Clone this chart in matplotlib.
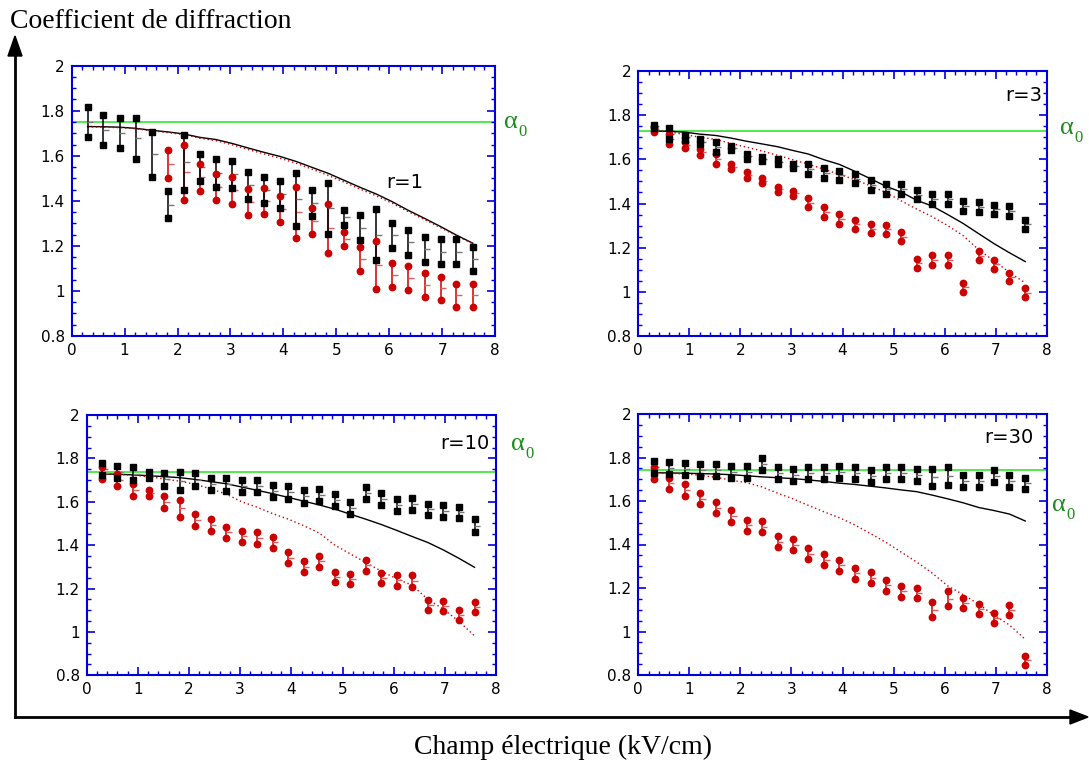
import numpy as np
import matplotlib.pyplot as plt
from matplotlib.ticker import MultipleLocator

# champ électrique (kV/cm), common to the four panels
champ = [0.30, 0.60, 0.91, 1.21, 1.52, 1.82, 2.12, 2.42, 2.73, 3.03, 3.33, 3.64, 3.94,
         4.24, 4.55, 4.85, 5.15, 5.45, 5.76, 6.06, 6.36, 6.67, 6.97, 7.27, 7.58]

# --- r = 1 ---
r1_noir_haut = [1.818, 1.783, 1.769, 1.769, 1.707, 1.442, 1.694, 1.609, 1.586, 1.578, 1.528, 1.506, 1.487,
                1.522, 1.450, 1.481, 1.359, 1.337, 1.362, 1.303, 1.272, 1.241, 1.229, 1.229, 1.197]
r1_noir_bas = [1.683, 1.648, 1.636, 1.586, 1.507, 1.325, 1.448, 1.488, 1.463, 1.456, 1.410, 1.391, 1.370,
               1.290, 1.334, 1.254, 1.294, 1.226, 1.139, 1.192, 1.161, 1.130, 1.120, 1.120, 1.089]
r1_rouge_haut = [None] * 5 + [1.624, 1.648, 1.565, 1.521, 1.506, 1.453, 1.457, 1.423, 1.463, 1.367,
                              1.388, 1.263, 1.195, 1.222, 1.123, 1.109, 1.078, 1.064, 1.031, 1.031]
r1_rouge_bas = [None] * 5 + [1.500, 1.404, 1.444, 1.404, 1.386, 1.337, 1.342, 1.308, 1.237, 1.254,
                             1.167, 1.198, 1.090, 1.010, 1.019, 1.006, 0.975, 0.960, 0.929, 0.929]
r1_modele = [1.730, 1.729, 1.727, 1.722, 1.713, 1.706, 1.697, 1.682, 1.672, 1.655, 1.635, 1.615, 1.597,
             1.575, 1.548, 1.522, 1.491, 1.460, 1.430, 1.396, 1.358, 1.322, 1.286, 1.248, 1.212]
r1_modele_rouge = [1.728, 1.727, 1.725, 1.720, 1.711, 1.703, 1.694, 1.678, 1.667, 1.649, 1.628, 1.608, 1.589,
                   1.567, 1.540, 1.513, 1.483, 1.452, 1.422, 1.389, 1.352, 1.317, 1.281, 1.245, 1.210]
r1_alpha0 = 1.75

# --- r = 3 ---
r3_noir_haut = [1.755, 1.740, 1.710, 1.692, 1.680, 1.662, 1.624, 1.611, 1.600, 1.580, 1.579, 1.561, 1.549,
                1.535, 1.506, 1.490, 1.490, 1.461, 1.443, 1.443, 1.413, 1.407, 1.395, 1.389, 1.327]
r3_noir_bas = [1.743, 1.692, 1.688, 1.668, 1.633, 1.641, 1.603, 1.592, 1.579, 1.559, 1.534, 1.517, 1.505,
               1.491, 1.461, 1.445, 1.445, 1.419, 1.398, 1.398, 1.368, 1.363, 1.351, 1.345, 1.285]
r3_rouge_haut = [1.748, 1.715, 1.677, 1.645, 1.623, 1.577, 1.541, 1.515, 1.476, 1.458, 1.426, 1.384, 1.351,
                 1.327, 1.307, 1.304, 1.271, 1.149, 1.165, 1.165, 1.040, 1.185, 1.144, 1.087, 1.016]
r3_rouge_bas = [1.725, 1.671, 1.653, 1.621, 1.579, 1.555, 1.517, 1.493, 1.454, 1.434, 1.383, 1.340, 1.307,
                1.283, 1.265, 1.262, 1.229, 1.108, 1.123, 1.123, 1.001, 1.143, 1.105, 1.048, 0.977]
r3_modele = [1.728, 1.727, 1.723, 1.714, 1.708, 1.696, 1.682, 1.670, 1.657, 1.640, 1.624, 1.598, 1.577,
             1.546, 1.512, 1.478, 1.452, 1.415, 1.388, 1.350, 1.310, 1.263, 1.218, 1.177, 1.137]
r3_modele_rouge = [1.728, 1.725, 1.712, 1.700, 1.690, 1.672, 1.655, 1.638, 1.618, 1.598, 1.578, 1.555, 1.532,
                   1.508, 1.480, 1.450, 1.412, 1.375, 1.340, 1.300, 1.255, 1.190, 1.140, 1.088, 1.040]
r3_alpha0 = 1.728

# --- r = 10 ---
r10_noir_haut = [1.779, 1.767, 1.760, 1.737, 1.733, 1.737, 1.731, 1.710, 1.710, 1.700, 1.700, 1.679, 1.673,
                 1.653, 1.659, 1.636, 1.599, 1.670, 1.641, 1.613, 1.618, 1.591, 1.587, 1.578, 1.519]
r10_noir_bas = [1.722, 1.711, 1.700, 1.711, 1.674, 1.654, 1.674, 1.654, 1.651, 1.644, 1.644, 1.624, 1.614,
                1.596, 1.604, 1.581, 1.542, 1.611, 1.585, 1.558, 1.561, 1.538, 1.530, 1.527, 1.462]
r10_rouge_haut = [1.762, 1.728, 1.682, 1.654, 1.627, 1.610, 1.544, 1.521, 1.484, 1.467, 1.461, 1.439, 1.367,
                  1.326, 1.350, 1.278, 1.269, 1.333, 1.273, 1.263, 1.261, 1.147, 1.144, 1.103, 1.138]
r10_rouge_bas = [1.707, 1.673, 1.625, 1.627, 1.571, 1.528, 1.488, 1.465, 1.433, 1.415, 1.407, 1.389, 1.316,
                 1.275, 1.301, 1.229, 1.220, 1.281, 1.224, 1.212, 1.209, 1.100, 1.095, 1.055, 1.091]
r10_modele = [1.728, 1.727, 1.724, 1.720, 1.716, 1.711, 1.703, 1.693, 1.683, 1.668, 1.653, 1.637, 1.620,
              1.603, 1.585, 1.566, 1.543, 1.520, 1.495, 1.468, 1.440, 1.412, 1.378, 1.340, 1.298]
r10_modele_rouge = [1.728, 1.726, 1.722, 1.716, 1.705, 1.695, 1.680, 1.660, 1.635, 1.600, 1.575, 1.545, 1.520,
                    1.490, 1.455, 1.400, 1.360, 1.320, 1.280, 1.245, 1.215, 1.150, 1.105, 1.050, 0.982]
r10_alpha0 = 1.737

# --- r = 30 ---
r30_noir_haut = [1.785, 1.781, 1.776, 1.770, 1.770, 1.761, 1.761, 1.798, 1.755, 1.749, 1.755, 1.755, 1.762,
                 1.755, 1.744, 1.755, 1.755, 1.749, 1.749, 1.755, 1.720, 1.720, 1.743, 1.720, 1.707]
r30_noir_bas = [1.727, 1.724, 1.721, 1.715, 1.715, 1.706, 1.706, 1.743, 1.701, 1.693, 1.701, 1.701, 1.707,
                1.701, 1.689, 1.701, 1.701, 1.693, 1.669, 1.675, 1.666, 1.666, 1.687, 1.666, 1.654]
r30_rouge_haut = [1.758, 1.707, 1.677, 1.637, 1.595, 1.557, 1.513, 1.508, 1.438, 1.425, 1.382, 1.355, 1.329,
                  1.292, 1.272, 1.237, 1.211, 1.200, 1.134, 1.186, 1.154, 1.126, 1.084, 1.122, 0.889]
r30_rouge_bas = [1.703, 1.654, 1.623, 1.585, 1.543, 1.503, 1.462, 1.456, 1.389, 1.375, 1.332, 1.306, 1.280,
                 1.243, 1.223, 1.188, 1.160, 1.154, 1.067, 1.116, 1.110, 1.082, 1.039, 1.077, 0.846]
r30_modele = [1.730, 1.729, 1.728, 1.726, 1.724, 1.721, 1.716, 1.711, 1.707, 1.703, 1.697, 1.690, 1.682,
              1.676, 1.668, 1.660, 1.651, 1.643, 1.627, 1.610, 1.592, 1.570, 1.556, 1.540, 1.508]
r30_modele_rouge = [1.728, 1.727, 1.725, 1.718, 1.709, 1.696, 1.684, 1.665, 1.636, 1.610, 1.580, 1.550, 1.523,
                    1.490, 1.450, 1.410, 1.365, 1.320, 1.268, 1.210, 1.170, 1.125, 1.075, 1.030, 0.964]
r30_alpha0 = 1.741

W, H = 1089, 765
BLEU = '#0000dd'
ROUGE = '#cc0000'
VERT = '#33e633'
VERT_TXT = '#1a8c1a'


def px_rect(left, top, right, bottom):
    # pixel box -> figure fraction
    return [left / W, 1 - bottom / H, (right - left) / W, (bottom - top) / H]


def paires(ax, x, haut, bas, couleur, marker, ms):
    x = np.array(x, dtype=float)
    h = np.array([np.nan if v is None else v for v in haut], dtype=float)
    b = np.array([np.nan if v is None else v for v in bas], dtype=float)
    ok = ~np.isnan(h)
    ax.vlines(x[ok], b[ok], h[ok], color=couleur, lw=1.1, zorder=3)
    moy = (h + b) / 2
    ax.plot(x[ok] + 0.05, moy[ok], ls='none', marker='_', ms=4, mew=1.0,
            color='#777777' if couleur == 'black' else '#e06060', zorder=3)
    ax.plot(x[ok], h[ok], ls='none', marker=marker, ms=ms, color=couleur, zorder=4)
    ax.plot(x[ok], b[ok], ls='none', marker=marker, ms=ms, color=couleur, zorder=4)


def alpha_zero(x, y):
    # alpha en romain avec un indice 0 décalé vers le bas
    fig.text(x / W, 1 - y / H, 'α', color=VERT_TXT, fontsize=19,
             family='Liberation Serif', ha='left', va='center')
    fig.text((x + 14) / W, 1 - (y + 10) / H, '0', color=VERT_TXT, fontsize=12,
             family='Liberation Serif', ha='left', va='center')


def panneau(rect, noir_haut, noir_bas, rouge_haut, rouge_bas, modele, modele_rouge,
            alpha0, etiquette, pos_etiquette, pos_alpha):
    ax = fig.add_axes(px_rect(*rect))
    ax.axhline(alpha0, color=VERT, lw=1.2, zorder=1)
    ax.plot(champ, modele, color='black', lw=1.0, zorder=2)
    ax.plot(champ, modele_rouge, color=ROUGE, lw=1.0, ls=(0, (1, 2)), zorder=2)
    paires(ax, champ, rouge_haut, rouge_bas, ROUGE, 'o', 4.6)
    paires(ax, champ, noir_haut, noir_bas, 'black', 's', 4.4)

    ax.set_xlim(0, 8)
    ax.set_ylim(0.8, 2.0)
    ax.xaxis.set_major_locator(MultipleLocator(1))
    ax.xaxis.set_minor_locator(MultipleLocator(0.2))
    ax.yaxis.set_minor_locator(MultipleLocator(0.05))
    ax.set_yticks([0.8, 1.0, 1.2, 1.4, 1.6, 1.8, 2.0])
    ax.set_yticklabels(['0.8', '1', '1.2', '1.4', '1.6', '1.8', '2'])
    ax.tick_params(which='both', direction='in', top=True, right=True, color=BLEU,
                   labelsize=11, labelcolor='black')
    ax.tick_params(axis='x', pad=5)
    ax.tick_params(axis='y', pad=5)
    ax.tick_params(which='major', length=6, width=1.2)
    ax.tick_params(which='minor', length=3, width=1.0)
    for s in ax.spines.values():
        s.set_color(BLEU)
        s.set_linewidth(1.5)
    ax.text(pos_etiquette[0], pos_etiquette[1], etiquette, fontsize=14,
            ha='center', va='center', zorder=5)
    alpha_zero(*pos_alpha)
    return ax


plt.rcParams['font.family'] = ['DejaVu Sans']
fig = plt.figure(figsize=(W / 100, H / 100), dpi=100)

panneau((71.7, 65.7, 495, 336), r1_noir_haut, r1_noir_bas, r1_rouge_haut, r1_rouge_bas,
        r1_modele, r1_modele_rouge, r1_alpha0, 'r=1', (6.3, 1.48), (504, 122))
panneau((638.3, 71, 1046.7, 336), r3_noir_haut, r3_noir_bas, r3_rouge_haut, r3_rouge_bas,
        r3_modele, r3_modele_rouge, r3_alpha0, 'r=3', (7.55, 1.89), (1060, 128))
panneau((86.7, 415, 496, 675.3), r10_noir_haut, r10_noir_bas, r10_rouge_haut, r10_rouge_bas,
        r10_modele, r10_modele_rouge, r10_alpha0, 'r=10', (7.4, 1.87), (511, 444))
panneau((638.3, 414, 1046.7, 675), r30_noir_haut, r30_noir_bas, r30_rouge_haut, r30_rouge_bas,
        r30_modele, r30_modele_rouge, r30_alpha0, 'r=30', (7.25, 1.89), (1052, 505))

# grands axes fléchés
y_axe = 1 - 717 / H
x_axe = 15 / W
fig.add_artist(plt.Line2D([x_axe, 1 - 14 / W], [y_axe, y_axe], transform=fig.transFigure,
                          color='black', lw=2))
fig.add_artist(plt.Line2D([x_axe, x_axe], [y_axe, 1 - 50 / H], transform=fig.transFigure,
                          color='black', lw=2))
fig.patches.append(plt.Polygon([[1 - 1 / W, y_axe], [1 - 19 / W, y_axe + 7 / H],
                                [1 - 19 / W, y_axe - 7 / H]], closed=True,
                               transform=fig.transFigure, color='black'))
fig.patches.append(plt.Polygon([[x_axe, 1 - 36 / H], [x_axe - 7 / W, 1 - 56 / H],
                                [x_axe + 7 / W, 1 - 56 / H]], closed=True,
                               transform=fig.transFigure, color='black'))

fig.text(10 / W, 1 - 22 / H, 'Coefficient de diffraction', fontsize=20,
         family='Liberation Serif', ha='left', va='center')
fig.text(563 / W, 1 - 747 / H, 'Champ électrique (kV/cm)', fontsize=20,
         family='Liberation Serif', ha='center', va='center')

fig.savefig('out.png', dpi=100, facecolor='white')
